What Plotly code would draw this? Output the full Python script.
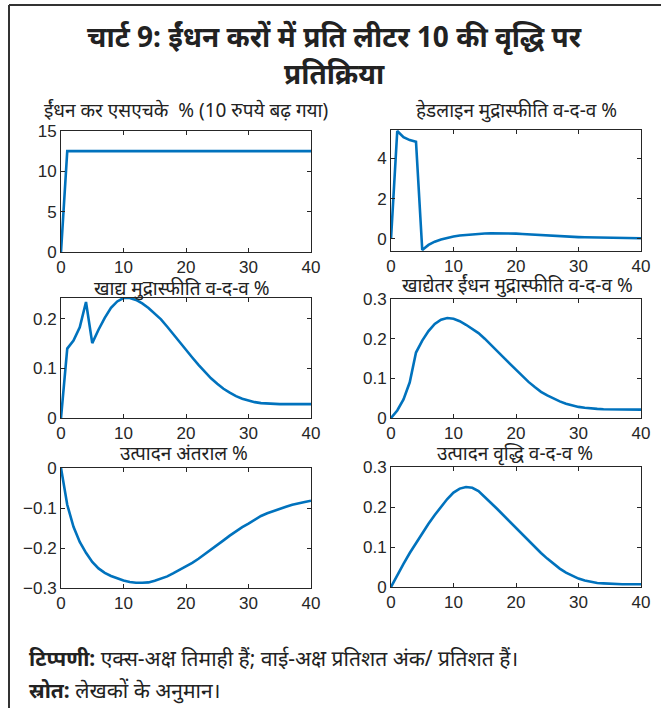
import plotly.graph_objects as go

# ---------------- data ----------------
quarters = list(range(41))
x_ticks = [0, 10, 20, 30, 40]

fuel_tax = [0, 12.5, 12.5, 12.5, 12.5, 12.5, 12.5, 12.5, 12.5, 12.5, 12.5,
            12.5, 12.5, 12.5, 12.5, 12.5, 12.5, 12.5, 12.5, 12.5, 12.5,
            12.5, 12.5, 12.5, 12.5, 12.5, 12.5, 12.5, 12.5, 12.5, 12.5,
            12.5, 12.5, 12.5, 12.5, 12.5, 12.5, 12.5, 12.5, 12.5, 12.5]

headline = [0, 5.35, 5.05, 4.9, 4.82, -0.55, -0.3, -0.14, -0.03, 0.06, 0.12,
            0.17, 0.2, 0.23, 0.25, 0.27, 0.28, 0.28, 0.28, 0.27, 0.26,
            0.24, 0.22, 0.2, 0.18, 0.16, 0.14, 0.12, 0.11, 0.1, 0.09,
            0.08, 0.075, 0.07, 0.065, 0.06, 0.055, 0.05, 0.045, 0.04, 0.035]

food = [0, 0.14, 0.156, 0.183, 0.234, 0.151, 0.178, 0.202, 0.222, 0.235, 0.242,
        0.242, 0.238, 0.231, 0.222, 0.211, 0.199, 0.184, 0.168, 0.153, 0.138,
        0.122, 0.107, 0.093, 0.08, 0.069, 0.059, 0.051, 0.044, 0.039, 0.035,
        0.032, 0.03, 0.029, 0.028, 0.028, 0.028, 0.028, 0.028, 0.028, 0.028]

non_food_fuel = [0, 0.019, 0.047, 0.09, 0.165, 0.195, 0.219, 0.237, 0.248, 0.252, 0.25,
                 0.244, 0.235, 0.225, 0.214, 0.2, 0.185, 0.169, 0.153, 0.137, 0.121,
                 0.106, 0.091, 0.078, 0.066, 0.057, 0.049, 0.042, 0.036, 0.032, 0.028,
                 0.026, 0.024, 0.023, 0.022, 0.022, 0.021, 0.021, 0.021, 0.021, 0.021]

output_gap = [0, -0.092, -0.147, -0.185, -0.212, -0.235, -0.251, -0.262, -0.27, -0.276, -0.281,
              -0.285, -0.287, -0.287, -0.286, -0.282, -0.277, -0.271, -0.263, -0.255, -0.246,
              -0.237, -0.227, -0.216, -0.204, -0.193, -0.181, -0.169, -0.158, -0.148, -0.139,
              -0.129, -0.12, -0.113, -0.107, -0.102, -0.097, -0.092, -0.088, -0.085, -0.082]

output_growth = [0, 0.03, 0.058, 0.085, 0.11, 0.135, 0.158, 0.18, 0.2, 0.22, 0.236,
                 0.246, 0.25, 0.248, 0.24, 0.226, 0.21, 0.195, 0.179, 0.164, 0.148,
                 0.132, 0.117, 0.1, 0.085, 0.071, 0.058, 0.046, 0.036, 0.028, 0.021,
                 0.016, 0.013, 0.01, 0.009, 0.008, 0.007, 0.007, 0.007, 0.007, 0.007]

titles = ["ईंधन कर एसएचके  % (10 रुपये बढ़ गया)",
          "हेडलाइन मुद्रास्फीति व-द-व %",
          "खाद्य मुद्रास्फीति व-द-व %",
          "खाद्येतर ईंधन मुद्रास्फीति व-द-व %",
          "उत्पादन अंतराल %",
          "उत्पादन वृद्धि व-द-व %"]
series = [fuel_tax, headline, food, non_food_fuel, output_gap, output_growth]
y_ranges = [[0, 15], [-0.6, 5.4], [0, 0.242], [0, 0.3], [-0.3, 0], [0, 0.3]]
y_ticks = [[0, 5, 10, 15], [0, 2, 4], [0, 0.1, 0.2], [0, 0.1, 0.2, 0.3],
           [-0.3, -0.2, -0.1, 0], [0, 0.1, 0.2, 0.3]]

main_title_lines = ["<b>चार्ट 9: ईंधन करों में प्रति लीटर 10 की वृद्धि पर</b>",
                    "<b>प्रतिक्रिया</b>"]
note = "<b>टिप्पणी:</b> एक्स-अक्ष तिमाही हैं; वाई-अक्ष प्रतिशत अंक/ प्रतिशत हैं।"
source = "<b>स्रोत:</b> लेखकों के अनुमान।"

# ---------------- layout (pixel geometry) ----------------
W, H = 661, 708
def px(x):
    return x / W
def py(y):
    return 1 - y / H

boxes = [  # (x0, x1, ytop, ybottom) in pixels
    (61, 311, 131, 252), (391, 641, 130, 251),
    (61, 311, 298, 418), (391, 641, 299, 418),
    (61, 311, 468, 588), (391, 641, 467, 587),
]
title_pos = [(186, 110), (516, 110), (182, 288), (517, 285), (184, 453), (515, 453)]

FONT = "Noto Sans, Noto Sans Devanagari, sans-serif"
TICKFONT = "Liberation Sans, Arial, sans-serif"
AX = "#262626"

fig = go.Figure()
layout = dict(
    width=W, height=H, margin=dict(l=0, r=0, t=0, b=0, pad=0),
    paper_bgcolor="white", plot_bgcolor="white", showlegend=False,
    font=dict(family=FONT, color="#222"),
)
annotations = []
for i, (ys, box) in enumerate(zip(series, boxes)):
    n = i + 1
    xa = "xaxis" if n == 1 else f"xaxis{n}"
    ya = "yaxis" if n == 1 else f"yaxis{n}"
    xr = "x" if n == 1 else f"x{n}"
    yr = "y" if n == 1 else f"y{n}"
    fig.add_trace(go.Scatter(x=quarters, y=ys, mode="lines", xaxis=xr, yaxis=yr,
                             line=dict(color="#0072BD", width=2.6), hoverinfo="skip"))
    x0, x1, yt, yb = box
    common = dict(showline=True, linecolor=AX, linewidth=1, mirror="ticks",
                  ticks="inside", ticklen=4, tickcolor=AX, showgrid=False, zeroline=False,
                  automargin=False,
                  tickfont=dict(family=TICKFONT, size=17, color=AX))
    layout[xa] = dict(domain=[px(x0), px(x1)], range=[0, 40], tickvals=x_ticks,
                      anchor=yr, **common)
    layout[ya] = dict(domain=[py(yb), py(yt)], range=y_ranges[i], tickvals=y_ticks[i],
                      anchor=xr, **common)
    tx, ty = title_pos[i]
    annotations.append(dict(text=titles[i], x=px(tx), y=py(ty), xref="paper", yref="paper",
                            showarrow=False, xanchor="center", yanchor="middle",
                            font=dict(family=FONT, size=19, color="#222")))

for line, ly in zip(main_title_lines, [36, 73]):
    annotations.append(dict(text=line, x=px(334), y=py(ly), xref="paper", yref="paper",
                            showarrow=False, xanchor="center", yanchor="middle",
                            font=dict(family=FONT, size=28, color="#222")))
annotations.append(dict(text=note, x=px(27), y=py(658), xref="paper", yref="paper",
                        showarrow=False, xanchor="left", yanchor="middle",
                        font=dict(family=FONT, size=21, color="#222")))
annotations.append(dict(text=source, x=px(27), y=py(690), xref="paper", yref="paper",
                        showarrow=False, xanchor="left", yanchor="middle",
                        font=dict(family=FONT, size=21, color="#222")))
layout["annotations"] = annotations
layout["shapes"] = [
    dict(type="line", xref="paper", yref="paper", x0=px(9), x1=1, y0=py(5), y1=py(5),
         line=dict(color="#333", width=2)),
    dict(type="line", xref="paper", yref="paper", x0=px(9), x1=px(9), y0=py(5), y1=0,
         line=dict(color="#333", width=2)),
]
fig.update_layout(**layout)
fig.write_html("out.html", config={"displayModeBar": False},
               post_script="document.body.style.margin='0';document.body.style.overflow='hidden';")
